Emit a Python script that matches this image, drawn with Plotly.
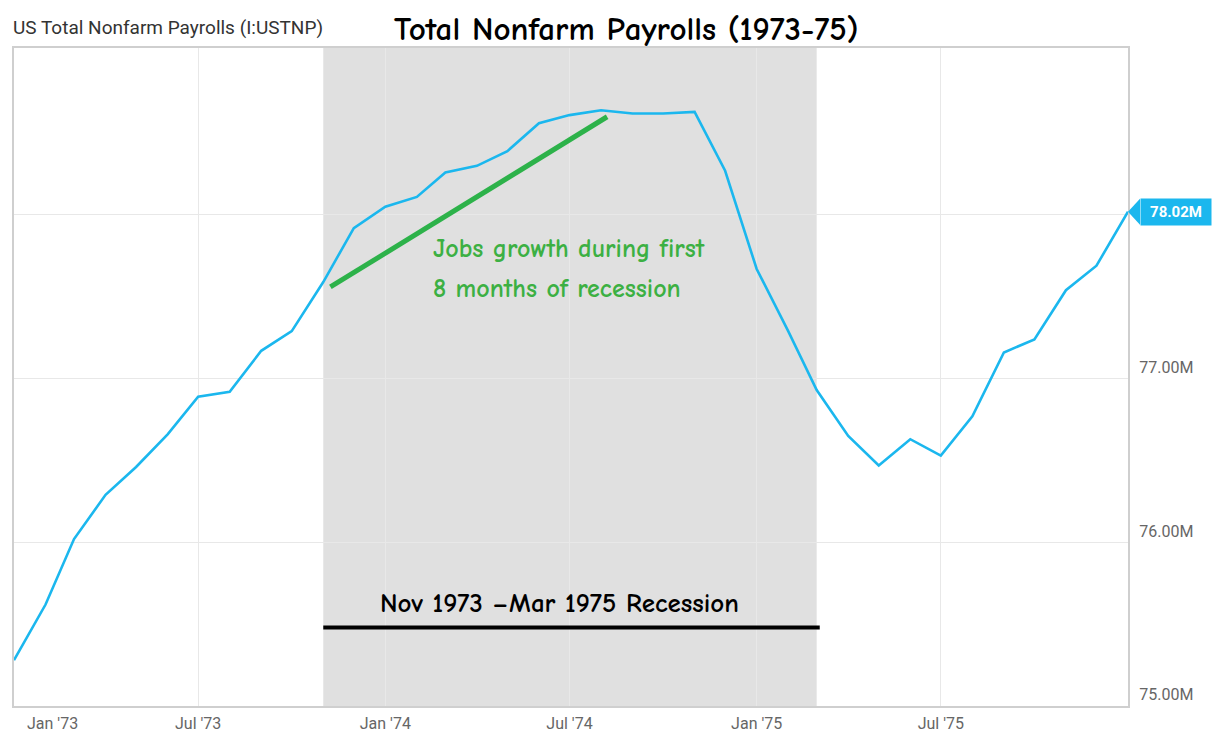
import pandas as pd
import plotly.graph_objects as go

# ---- data ----
months = pd.date_range("1973-01-01", "1976-01-01", freq="MS")
payrolls_m = [75.28, 75.62, 76.02, 76.29, 76.46, 76.66, 76.89, 76.92, 77.17, 77.29, 77.59, 77.92,
              78.05, 78.11, 78.26, 78.30, 78.39, 78.56, 78.61, 78.64, 78.62, 78.62, 78.63, 78.27,
              77.67, 77.29, 76.93, 76.65, 76.47, 76.63, 76.53, 76.77, 77.16, 77.24, 77.54, 77.69,
              78.02]
recession_start = "1973-11-01"
recession_end = "1975-03-01"
growth_line_x = ["1973-11-08", "1974-08-07"]
growth_line_y = [77.56, 78.60]
recession_bar_x = ["1973-11-01", "1975-03-04"]
recession_bar_y = [75.48, 75.48]
tick_dates = ["1973-01-01", "1973-07-01", "1974-01-01", "1974-07-01", "1975-01-01", "1975-07-01"]
tick_labels = ["", "Jul '73", "Jan '74", "Jul '74", "Jan '75", "Jul '75"]
first_tick_label = "Jan '73"
y_ticks = [75, 76, 77, 78]
y_tick_labels = ["75.00M", "76.00M", "77.00M", ""]
last_label = "78.02M"

# page body has an 8px margin; compensate so the plot area lands at x 12..1128, y 48..706
W, H = 1222, 735
L, R, T, B = 4, 102, 40, 37
OFF = 8
plot_w = W - L - R
plot_h = H - T - B
LINE_BLUE = "#1bb7ee"
HAND = "Comic Sans MS, Comic Neue, DejaVu Sans, sans-serif"


def px_x(x):  # page x -> paper x
    return (x - OFF - L) / plot_w


def px_y(y):  # page y -> paper y
    return (OFF + H - B - y) / plot_h


fig = go.Figure()
fig.add_trace(go.Scatter(x=months, y=payrolls_m, mode="lines",
                         line=dict(color=LINE_BLUE, width=2.6), hoverinfo="skip", showlegend=False))
fig.add_trace(go.Scatter(x=growth_line_x, y=growth_line_y, mode="lines",
                         line=dict(color="#2db24a", width=5), hoverinfo="skip", showlegend=False))
fig.add_trace(go.Scatter(x=recession_bar_x, y=recession_bar_y, mode="lines",
                         line=dict(color="#000000", width=4), hoverinfo="skip", showlegend=False))

fig.add_shape(type="rect", xref="x", yref="paper", x0=recession_start, x1=recession_end,
              y0=0, y1=1, fillcolor="#e0e0e0", line=dict(width=0), layer="below")

# last value tag
dx = 12 / plot_w
dy = 13 / 164
fig.add_shape(type="path", xref="paper", yref="y",
              path=f"M 1 {payrolls_m[-1]} L {1+dx} {payrolls_m[-1]+dy} L {1+dx} {payrolls_m[-1]-dy} Z",
              fillcolor=LINE_BLUE, line=dict(width=0), layer="above")
fig.add_annotation(xref="paper", yref="y", x=1 + dx, y=payrolls_m[-1], xanchor="left", yanchor="middle",
                   text=f"<b>{last_label}</b>", showarrow=False, bgcolor=LINE_BLUE,
                   font=dict(family="Roboto", size=15, color="white"), width=64, height=20, borderpad=3)

# first x tick label (shifted inside, as in reference)
fig.add_annotation(xref="paper", yref="paper", x=px_x(23), y=px_y(723), xanchor="left",
                   yanchor="middle", text=first_tick_label, showarrow=False,
                   font=dict(family="Roboto", size=16, color="#666666"))

# texts
fig.add_annotation(xref="paper", yref="paper", x=px_x(9), y=px_y(27),
                   xanchor="left", yanchor="middle", showarrow=False,
                   text="US Total Nonfarm Payrolls (I:USTNP)",
                   font=dict(family="Roboto", size=19, color="#333333"))
fig.add_annotation(xref="paper", yref="paper", x=px_x(626), y=px_y(8.5),
                   xanchor="center", yanchor="top", showarrow=False,
                   text="<b>Total Nonfarm Payrolls (1973-75)</b>",
                   font=dict(family=HAND, size=33, color="#000000"))
fig.add_annotation(xref="paper", yref="paper", x=px_x(430), y=px_y(249),
                   xanchor="left", yanchor="middle", showarrow=False,
                   text="<b>Jobs growth during first</b>",
                   font=dict(family=HAND, size=26, color="#3cb043"))
fig.add_annotation(xref="paper", yref="paper", x=px_x(430), y=px_y(289),
                   xanchor="left", yanchor="middle", showarrow=False,
                   text="<b>8 months of recession</b>",
                   font=dict(family=HAND, size=26, color="#3cb043"))
fig.add_annotation(xref="paper", yref="paper", x=px_x(558), y=px_y(603),
                   xanchor="center", yanchor="middle", showarrow=False,
                   text="<b>Nov 1973 \u2013Mar 1975 Recession</b>",
                   font=dict(family=HAND, size=27, color="#000000"))

fig.update_layout(
    width=W, height=H, margin=dict(l=L, r=R, t=T, b=B),
    paper_bgcolor="white", plot_bgcolor="white",
    showlegend=False, hovermode=False,
    xaxis=dict(type="date", range=["1973-01-01", "1976-01-01"], tickvals=tick_dates, ticktext=tick_labels,
               showgrid=True, gridcolor="#e8e8e8", gridwidth=1,
               showline=True, linecolor="#cfcfcf", linewidth=2, mirror=True, ticks="",
               ticklabelstandoff=2,
               tickfont=dict(family="Roboto", size=16, color="#666666"), zeroline=False),
    yaxis=dict(range=[75, 79.02], side="right", tickvals=y_ticks, ticktext=y_tick_labels,
               showgrid=True, gridcolor="#e8e8e8", gridwidth=1,
               showline=True, linecolor="#cfcfcf", linewidth=2, mirror=True, ticks="",
               ticklabelposition="outside top", ticklabelstandoff=6,
               tickfont=dict(family="Roboto", size=16, color="#666666"), zeroline=False),
)

fig.write_html("out.html")
